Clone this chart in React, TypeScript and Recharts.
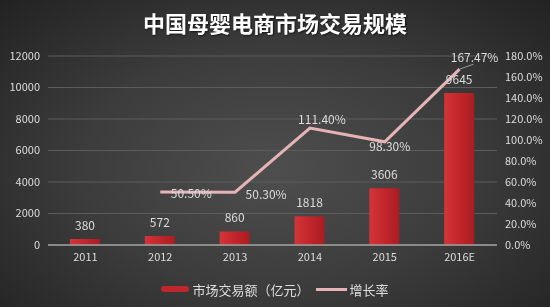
import { ComposedChart, Bar, Line, XAxis, YAxis, CartesianGrid, Legend, LabelList } from 'recharts';

const years = ['2011', '2012', '2013', '2014', '2015', '2016E'];
const volume = [380, 572, 860, 1818, 3606, 9645];
const growth = [null, 0.505, 0.503, 1.114, 0.983, 1.6747];
const leftTicks = [0, 2000, 4000, 6000, 8000, 10000, 12000];
const rightTicks = [0, 0.2, 0.4, 0.6, 0.8, 1.0, 1.2, 1.4, 1.6, 1.8];

const data = years.map((year, i) => ({ year, volume: volume[i], growth: growth[i] }));

const FONT = '"Noto Sans CJK SC", "Noto Sans", sans-serif';

// where each growth label sits relative to its point
const growthLabelShift = [
    { dx: 0, dy: 0 },
    { dx: 31, dy: 1 },
    { dx: 31, dy: 1 },
    { dx: 12, dy: -10 },
    { dx: 5, dy: 4 },
    { dx: 15, dy: -13 },
];

const GrowthLabel = (props: any) => {
    const { x, y, value, index } = props;
    if (value == null) return null;
    const s = growthLabelShift[index];
    const text = (value * 100).toFixed(2) + '%';
    return (
        <g>
            {index === 5 && (
                <line x1={x} y1={y} x2={x + 14} y2={y - 5} stroke={'#9a9a9a'} strokeWidth={1} />
            )}
            <text x={x + s.dx} y={y + s.dy} textAnchor={'middle'} dominantBaseline={'central'}
                fill={'#dcdcdc'} fontSize={12} fontFamily={FONT}>
                {text}
            </text>
        </g>
    );
};

const LegendContent = () => (
    <div style={{ height: 40, display: 'flex', justifyContent: 'center', alignItems: 'center', paddingTop: 4, boxSizing: 'border-box', fontFamily: FONT, fontSize: 13, color: '#dedede' }}>
        <span style={{ display: 'inline-block', width: 28, height: 6, background: '#c1262b', borderRadius: 3, marginRight: 3 }} />
        <span>市场交易额（亿元）</span>
        <span style={{ display: 'inline-block', width: 31, height: 3, background: '#e6b3b7', marginLeft: 6, marginRight: 3 }} />
        <span>增长率</span>
    </div>
);

export default function App() {
    return (
        <div style={{
            position: 'fixed', left: 0, top: 0, width: 550, height: 307, overflow: 'hidden',
            background: 'radial-gradient(ellipse at 50% 55%, #4e4e4e 0%, #3c3c3c 50%, #222222 100%)',
        }}>
            <div style={{
                position: 'absolute', left: 0, top: 6, width: 550, textAlign: 'center',
                fontFamily: FONT, fontWeight: 700, fontSize: 22, color: '#ffffff',
                textShadow: '1px 1px 2px rgba(0,0,0,0.6)', letterSpacing: 0,
            }}>
                中国母婴电商市场交易规模
            </div>
            <ComposedChart width={550} height={307} data={data}
                margin={{ top: 56, right: 0, bottom: 0, left: 0 }} barCategoryGap={'30%'}>
                <defs>
                    <linearGradient id={'barFill'} x1={'0'} y1={'0'} x2={'1'} y2={'0'}>
                        <stop offset={'0%'} stopColor={'#d33538'} />
                        <stop offset={'50%'} stopColor={'#c2262b'} />
                        <stop offset={'100%'} stopColor={'#a81d22'} />
                    </linearGradient>
                </defs>
                <CartesianGrid vertical={false} stroke={'#5c5c5c'} strokeWidth={1} yAxisId={'left'} />
                <XAxis dataKey={'year'} height={22} tickLine={false} axisLine={{ stroke: '#a0a0a0', strokeWidth: 1.5 }}
                    tick={{ fill: '#dcdcdc', fontSize: 11, fontFamily: FONT }} />
                <YAxis yAxisId={'left'} width={48} domain={[0, 12000]} ticks={leftTicks} tickLine={false} axisLine={false}
                    tick={{ fill: '#dcdcdc', fontSize: 11, fontFamily: FONT }} />
                <YAxis yAxisId={'right'} orientation={'right'} width={53} domain={[0, 1.8]} ticks={rightTicks}
                    tickLine={false} axisLine={false} tickFormatter={(v: number) => (v * 100).toFixed(1) + '%'}
                    tick={{ fill: '#dcdcdc', fontSize: 11, fontFamily: FONT }} />
                <Legend verticalAlign={'bottom'} content={<LegendContent />} />
                <Bar yAxisId={'left'} dataKey={'volume'} name={'市场交易额（亿元）'} fill={'url(#barFill)'} barSize={30} isAnimationActive={false}>
                    <LabelList dataKey={'volume'} position={'top'} offset={9} fill={'#dcdcdc'} fontSize={12} fontFamily={FONT} />
                </Bar>
                <Line yAxisId={'right'} dataKey={'growth'} name={'增长率'} stroke={'#e6b3b7'} strokeWidth={3} dot={false}
                    connectNulls={false} isAnimationActive={false}>
                    <LabelList dataKey={'growth'} content={<GrowthLabel />} />
                </Line>
            </ComposedChart>
        </div>
    );
}
